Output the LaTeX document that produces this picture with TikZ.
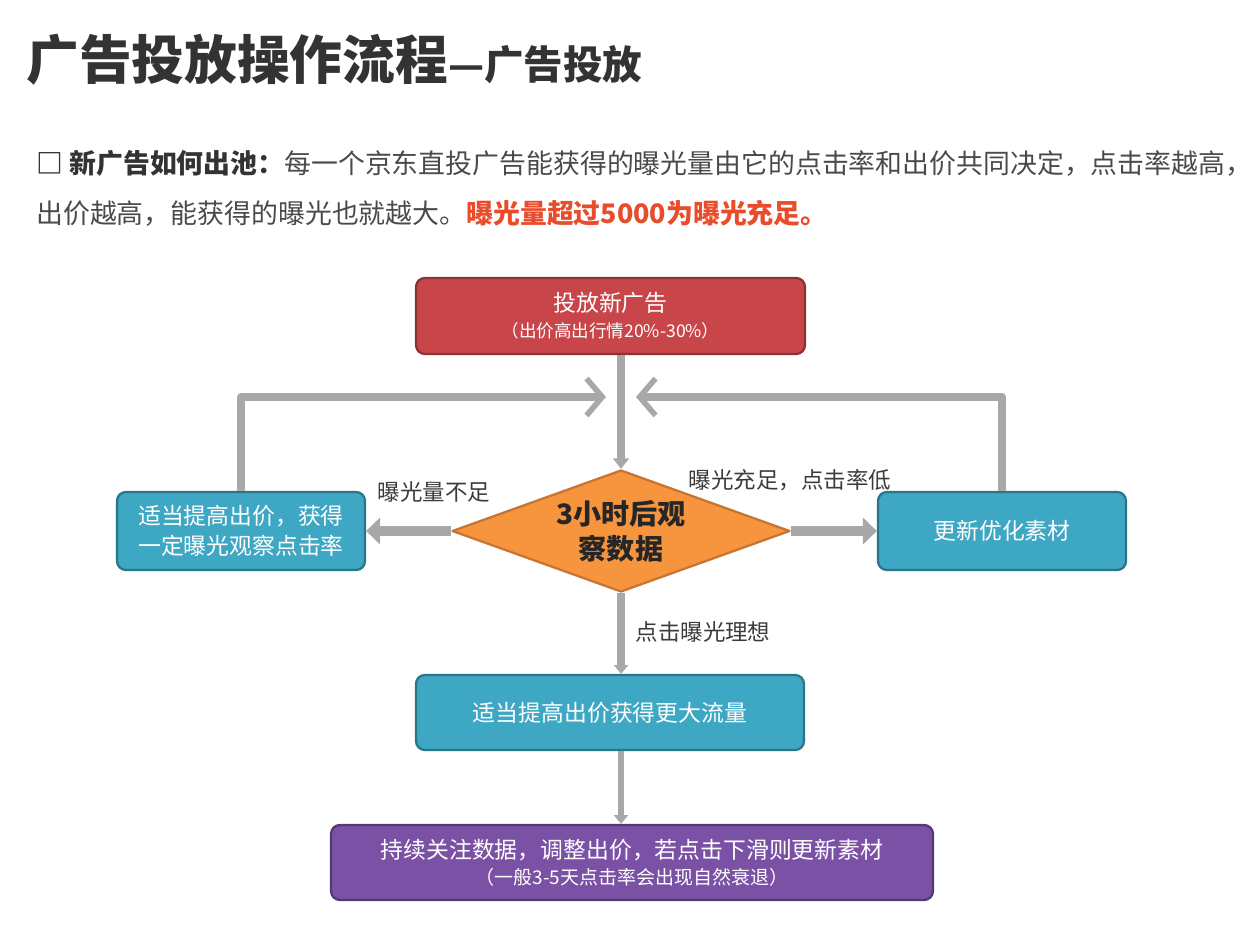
\documentclass[tikz,border=0pt]{standalone}
\usepackage{fontspec}
\setmainfont{Noto Sans CJK SC}
\usetikzlibrary{shapes.geometric,arrows.meta}
\definecolor{adred}{HTML}{C8464A}
\definecolor{adteal}{HTML}{3EA7C3}
\definecolor{adpurple}{HTML}{7A51A4}
\definecolor{adorange}{HTML}{F7943E}
\definecolor{flowgray}{HTML}{A8A8A8}
\definecolor{txtgray}{HTML}{4A4A4A}
\definecolor{hotred}{HTML}{E84C2B}
\begin{document}
\begin{tikzpicture}[x=0.02cm,y=-0.02cm,line join=round,
	flowbox/.style={draw=#1!70!black,fill=#1,rounded corners=5pt,line width=1.3pt,text=white,align=center,inner sep=2pt,font=\fontsize{13pt}{17pt}\selectfont},
	flowline/.style={draw=flowgray,line width=4.5pt},
	lbl/.style={text=txtgray!80!black,font=\fontsize{12.8pt}{15pt}\selectfont}]
	\useasboundingbox (0,0) rectangle (1256,942);
	% title and note
	\node[anchor=west,inner sep=0pt,text=black!80] (title) at (26,60)
		{{\fontsize{30pt}{36pt}\selectfont\bfseries 广告投放操作流程}{\fontsize{22.5pt}{26pt}\selectfont\bfseries —广告投放}};
	\node[anchor=west,inner sep=0pt,text=txtgray,font=\fontsize{15.3pt}{18pt}\selectfont] (note1) at (36,163)
		{{\bfseries\color{black!80}□ 新广告如何出池：}每一个京东直投广告能获得的曝光量由它的点击率和出价共同决定，点击率越高，};
	\node[anchor=west,inner sep=0pt,text=txtgray,font=\fontsize{15.3pt}{18pt}\selectfont] (note2) at (36,213)
		{出价越高，能获得的曝光也就越大。{\bfseries\color{hotred}曝光量超过5000为曝光充足。}};
	% boxes
	\node[flowbox=adred,minimum width=7.78cm,minimum height=1.52cm] (top) at (610.5,316)
		{投放新广告\\[-2pt]{\fontsize{10pt}{12pt}\selectfont （出价高出行情20\%-30\%）}};
	\node[diamond,aspect=2.77,draw=adorange!80!black,fill=adorange,line width=1.3pt,inner sep=0pt,minimum width=6.76cm,minimum height=2.44cm,align=center,text=black!85,font=\fontsize{16pt}{20pt}\selectfont\bfseries] (dia) at (621,531)
		{3小时后观\\察数据};
	\node[flowbox=adteal,minimum width=4.96cm,minimum height=1.56cm] (lbox) at (241,531)
		{适当提高出价，获得\\一定曝光观察点击率};
	\node[flowbox=adteal,minimum width=4.96cm,minimum height=1.56cm] (rbox) at (1002,531) {更新优化素材};
	\node[flowbox=adteal,minimum width=7.76cm,minimum height=1.5cm] (mid) at (610,712.5) {适当提高出价获得更大流量};
	\node[flowbox=adpurple,minimum width=12.04cm,minimum height=1.5cm] (bot) at (632,862.5)
		{持续关注数据，调整出价，若点击下滑则更新素材\\[-2pt]{\fontsize{10.8pt}{13pt}\selectfont （一般3-5天点击率会出现自然衰退）}};
	% labels
	\node[lbl] (lowlbl) at (434,492) {曝光量不足};
	\node[lbl] (ctrlbl) at (790,480) {曝光充足，点击率低};
	\node[lbl] (oklbl) at (703,632) {点击曝光理想};
	% connectors
	\coordinate (jl) at (606,397);
	\coordinate (jr) at (636,397);
	\draw[flowline,-{Triangle[length=6pt,width=9pt]}] (top.south -| dia.north) -- (dia.north);
	\draw[flowline,-{Straight Barb[length=9pt,width=21pt,line width=3.2pt]}] (lbox.north) |- (jl);
	\draw[flowline,-{Straight Barb[length=9pt,width=21pt,line width=3.2pt]}] (rbox.north) |- (jr);
	\draw[flowline,line width=6pt,-{Triangle[length=8pt,width=15pt]}] (dia.west) -- (lbox.east);
	\draw[flowline,line width=6pt,-{Triangle[length=8pt,width=15pt]}] (dia.east) -- (rbox.west);
	\draw[flowline,-{Triangle[length=5pt,width=8pt]}] (dia.south) -- (dia.south |- mid.north);
	\draw[flowline,line width=3.5pt,-{Triangle[length=5pt,width=8pt]}] (dia.south |- mid.south) -- (dia.south |- bot.north);
\end{tikzpicture}
\end{document}
